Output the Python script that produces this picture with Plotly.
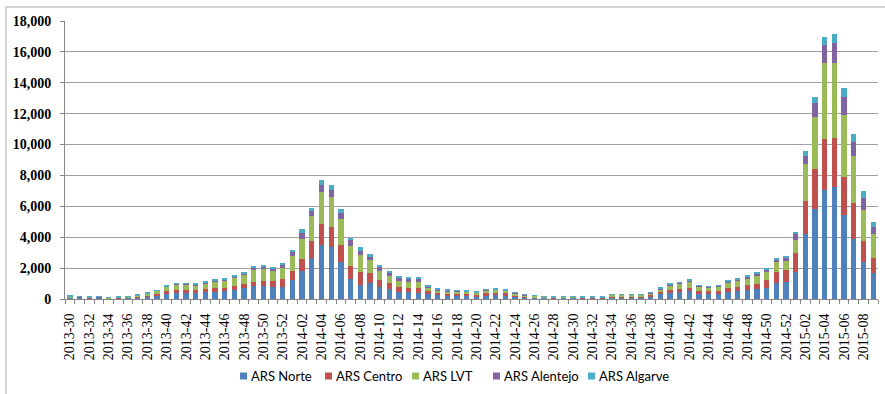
import plotly.graph_objects as go

# ISO weeks from 2013-30 to 2015-09
weeks = [f"2013-{w:02d}" for w in range(30, 53)] + \
        [f"2014-{w:02d}" for w in range(1, 53)] + \
        [f"2015-{w:02d}" for w in range(1, 10)]

ars_norte = [90, 65, 55, 65, 40, 55, 75, 100, 160, 250, 340, 400, 400, 390, 440, 480, 500, 590, 700,
             850, 850, 800, 800,
             1240, 1820, 2650, 3490, 3360, 2390, 1280, 910, 1020, 760, 630, 430, 430, 370, 330, 260,
             230, 220, 200, 175, 250, 270, 240, 160, 100, 80, 65, 50, 65, 65, 50, 50, 50, 120, 120,
             120, 120, 170, 300, 400, 450, 500, 350, 330, 350, 480, 530, 580, 640, 710, 1040, 1100,
             1750, 4210, 5830, 7060, 7240, 5420, 3890, 2400, 1680]
ars_centro = [20, 15, 15, 15, 10, 15, 20, 35, 60, 80, 150, 190, 190, 180, 210, 230, 240, 270, 300,
              280, 340, 350, 500,
              580, 760, 1080, 1390, 1280, 1130, 870, 870, 690, 480, 390, 370, 260, 320, 170, 130,
              120, 110, 105, 90, 125, 130, 120, 80, 50, 40, 30, 20, 30, 30, 20, 20, 20, 50, 50,
              50, 50, 70, 130, 190, 200, 230, 170, 160, 170, 230, 260, 300, 350, 500, 710, 800,
              1230, 2120, 2590, 3310, 3190, 2460, 2350, 1360, 980]
ars_lvt = [60, 45, 40, 45, 35, 40, 60, 95, 140, 195, 290, 330, 330, 330, 370, 410, 440, 500, 580,
           760, 740, 670, 700,
           980, 1300, 1630, 2040, 1980, 1670, 1300, 1080, 790, 600, 480, 390, 440, 440, 230, 180,
           165, 160, 150, 135, 180, 190, 170, 120, 100, 95, 60, 45, 60, 60, 45, 45, 45, 100, 100,
           100, 100, 130, 210, 290, 330, 380, 270, 260, 270, 370, 410, 460, 520, 580, 650, 580,
           860, 2420, 3370, 4900, 4840, 4020, 3000, 2030, 1550]
ars_alentejo = [15, 12, 10, 12, 8, 10, 13, 18, 25, 35, 55, 60, 60, 60, 70, 75, 75, 90, 100,
                170, 150, 180, 210,
                240, 390, 330, 460, 430, 390, 350, 260, 210, 220, 210, 200, 190, 190, 75, 50,
                45, 45, 40, 35, 50, 50, 45, 30, 20, 15, 12, 8, 12, 12, 8, 8, 8, 20, 20,
                20, 20, 25, 45, 70, 75, 90, 60, 55, 60, 80, 90, 100, 115, 110, 170, 180,
                370, 540, 910, 1190, 1280, 1170, 910, 750, 460]
ars_algarve = [15, 13, 10, 13, 7, 10, 12, 12, 15, 20, 35, 40, 40, 40, 40, 45, 45, 50, 50,
               90, 90, 90, 150,
               150, 270, 210, 300, 330, 280, 170, 220, 190, 130, 70, 60, 70, 80, 40, 30,
               25, 25, 25, 20, 25, 30, 25, 20, 10, 10, 8, 7, 8, 8, 7, 7, 7, 10, 10,
               10, 10, 15, 30, 40, 45, 50, 35, 35, 35, 50, 50, 50, 60, 90, 90, 80,
               110, 280, 350, 500, 600, 560, 540, 480, 300]

series = [
    ("ARS Norte", ars_norte, "#4F81BD"),
    ("ARS Centro", ars_centro, "#C0504D"),
    ("ARS LVT", ars_lvt, "#9BBB59"),
    ("ARS Alentejo", ars_alentejo, "#8064A2"),
    ("ARS Algarve", ars_algarve, "#4BACC6"),
]

x_idx = list(range(len(weeks)))

fig = go.Figure()
for name, vals, color in series:
    fig.add_trace(go.Bar(x=x_idx, y=vals, name=name, showlegend=False,
                         marker=dict(color=color, line=dict(width=0))))

W, H = 885, 394
ml, mr, mt, mb = 65, 7, 21, 95
pw, ph = W - ml - mr, H - mt - mb

def px_x(p):
    return (p - ml) / pw

def px_y(p):
    return (H - mb - p) / ph

SERIF = "Liberation Serif, Times New Roman, serif"
SANS = "Lato, Noto Sans, sans-serif"

fig.update_layout(
    width=W, height=H,
    barmode="stack", bargap=0.45,
    margin=dict(l=ml, r=mr, t=mt, b=mb, pad=0),
    paper_bgcolor="white", plot_bgcolor="white",
    font=dict(family=SERIF, size=13, color="#000"),
    xaxis=dict(
        range=[-0.5, len(weeks) - 0.5],
        tickmode="array", tickvals=x_idx[::2], ticktext=weeks[::2],
        tickangle=-90, ticks="", showgrid=False, zeroline=False,
        showline=True, linecolor="#888", linewidth=1,
        tickfont=dict(family=SERIF, size=14, color="#000"),
        ticklabelstandoff=8,
        minor=dict(tick0=0.5, dtick=1, ticks="outside", ticklen=4, tickcolor="#888", showgrid=False),
    ),
    yaxis=dict(
        range=[0, 18000], tickvals=list(range(0, 18001, 2000)), tickformat=",",
        showgrid=True, gridcolor="#a0a0a0", gridwidth=1, zeroline=False,
        showline=True, linecolor="#888", linewidth=1,
        ticks="outside", ticklen=4, tickcolor="#888",
        tickfont=dict(family=SERIF, size=14, color="#000", weight="bold"),
        ticklabelstandoff=6,
    ),
)

# compact legend row below the axis: colour swatch followed by the series name
legend_left = [240, 325, 412, 493, 588]
legend_mid = 376
for (name, _, color), left in zip(series, legend_left):
    fig.add_shape(type="rect", xref="paper", yref="paper",
                  x0=px_x(left), x1=px_x(left + 7),
                  y0=px_y(legend_mid + 3.5), y1=px_y(legend_mid - 3.5),
                  line=dict(width=0), fillcolor=color)
    fig.add_annotation(xref="paper", yref="paper", x=px_x(left + 9), y=px_y(legend_mid),
                       xanchor="left", yanchor="middle", showarrow=False, text=name,
                       font=dict(family=SANS, size=13, color="#000"))

# outer chart frame (left and top edges inside the page)
fig.add_shape(type="rect", xref="paper", yref="paper",
              x0=px_x(6), x1=px_x(900), y0=px_y(420), y1=px_y(7),
              line=dict(color="#c8c8c8", width=1.5), fillcolor="rgba(0,0,0,0)", layer="below")

fig.write_html("out.html")
